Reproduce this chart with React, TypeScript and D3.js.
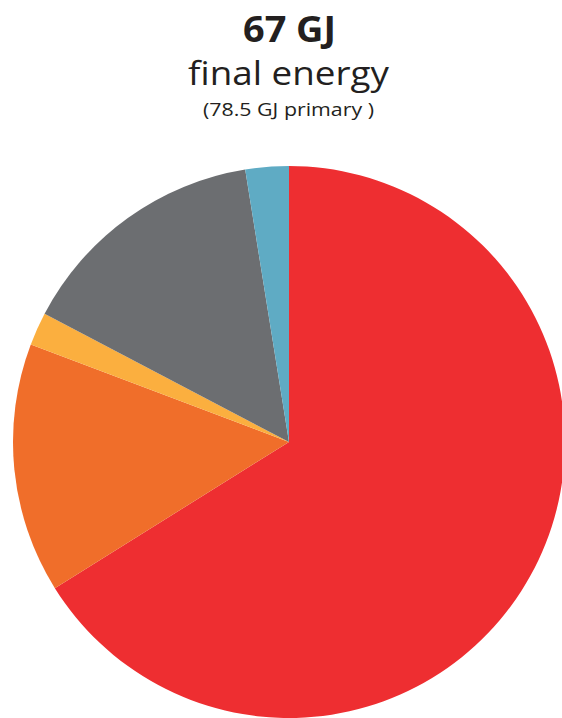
import React from "react";
import * as d3 from "d3";

// Final energy breakdown (GJ), clockwise from 12 o'clock
const categories = ["Electricity", "Heat", "Other", "Fuels", "Renewables"];
const values = [44.3, 9.8, 1.3, 9.9, 1.7];
const colors = ["#EE2E31", "#F06E2A", "#FBAF3F", "#6C6E71", "#5FABC4"];

const totalLabel = "67 GJ";
const subtitle = "final energy";
const note = "(78.5 GJ primary )";

const W = 562;
const H = 718;

export default function App() {
  const cx = 289;
  const cy = 442;
  const r = 276;

  const pie = d3
    .pie<number>()
    .sort(null)
    .value((d) => d)
    .startAngle(0)
    .endAngle(2 * Math.PI);
  const arcs = pie(values);
  const arc = d3.arc<d3.PieArcDatum<number>>().innerRadius(0).outerRadius(r);

  const font = "'Open Sans', 'Noto Sans', sans-serif";

  return (
    <svg
      width={W}
      height={H}
      style={{ position: "absolute", left: 0, top: 0, background: "#fff" }}
    >
      <g fill="#231F20" fontFamily={font} textAnchor="middle">
        <text
          x={289.5}
          y={42}
          fontSize={35}
          fontWeight={700}
          textLength={93}
          lengthAdjust="spacingAndGlyphs"
        >
          {totalLabel}
        </text>
        <text
          x={288.5}
          y={85}
          fontSize={33}
          textLength={201}
          lengthAdjust="spacingAndGlyphs"
        >
          {subtitle}
        </text>
        <text
          x={288.5}
          y={115.5}
          fontSize={19}
          textLength={171}
          lengthAdjust="spacingAndGlyphs"
        >
          {note}
        </text>
      </g>
      <g transform={`translate(${cx},${cy})`}>
        {arcs.map((a, i) => (
          <path key={categories[i]} d={arc(a) || ""} fill={colors[i]} />
        ))}
      </g>
    </svg>
  );
}
